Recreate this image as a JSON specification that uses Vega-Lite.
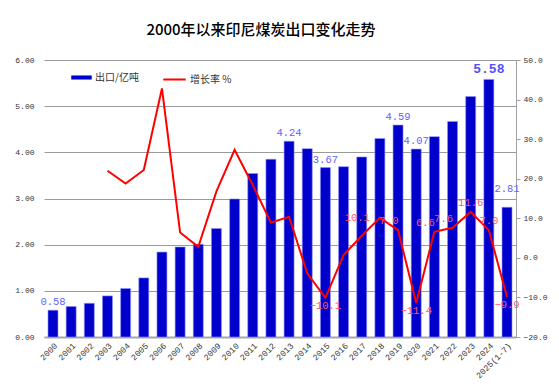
{
  "$schema": "https://vega.github.io/schema/vega-lite/v6.json",
  "width": 472,
  "height": 277,
  "autosize": {"type": "pad"},
  "padding": {"left": 14, "top": 23, "right": 5, "bottom": 0},
  "background": "white",
  "title": {
    "text": "2000年以来印尼煤炭出口变化走势",
    "font": "Noto Sans CJK SC",
    "fontSize": 15,
    "fontWeight": 500,
    "color": "#000000",
    "anchor": "middle",
    "dx": -19,
    "offset": 18
  },
  "config": {
    "view": {"stroke": null},
    "axis": {
      "labelFont": "Liberation Mono",
      "labelColor": "#333333",
      "titleFont": "Noto Sans CJK SC"
    }
  },
  "data": {
    "values": [
      {"year": "2000", "exports": 0.58, "growth": null},
      {"year": "2001", "exports": 0.66, "growth": null},
      {"year": "2002", "exports": 0.73, "growth": null},
      {"year": "2003", "exports": 0.89, "growth": 22.0},
      {"year": "2004", "exports": 1.05, "growth": 18.8},
      {"year": "2005", "exports": 1.28, "growth": 22.2},
      {"year": "2006", "exports": 1.84, "growth": 42.8},
      {"year": "2007", "exports": 1.95, "growth": 6.4},
      {"year": "2008", "exports": 2.01, "growth": 2.8},
      {"year": "2009", "exports": 2.35, "growth": 16.8},
      {"year": "2010", "exports": 2.99, "growth": 27.3},
      {"year": "2011", "exports": 3.54, "growth": 18.4},
      {"year": "2012", "exports": 3.85, "growth": 8.9},
      {"year": "2013", "exports": 4.24, "growth": 10.4},
      {"year": "2014", "exports": 4.08, "growth": -3.9},
      {"year": "2015", "exports": 3.67, "growth": -10.1},
      {"year": "2016", "exports": 3.69, "growth": 0.7},
      {"year": "2017", "exports": 3.90, "growth": 5.6},
      {"year": "2018", "exports": 4.30, "growth": 10.1},
      {"year": "2019", "exports": 4.59, "growth": 7.0},
      {"year": "2020", "exports": 4.07, "growth": -11.4},
      {"year": "2021", "exports": 4.34, "growth": 6.6},
      {"year": "2022", "exports": 4.67, "growth": 7.6},
      {"year": "2023", "exports": 5.21, "growth": 11.6},
      {"year": "2024", "exports": 5.58, "growth": 7.0},
      {"year": "2025(1-7)", "exports": 2.81, "growth": -9.9}
    ]
  },
  "encoding": {
    "x": {
      "field": "year",
      "type": "nominal",
      "sort": null,
      "title": null,
      "scale": {"paddingInner": 0.45, "paddingOuter": 0.22},
      "axis": {
        "labelAngle": -45,
        "labelFontSize": 8.5,
        "labelPadding": 4,
        "ticks": false,
        "domainColor": "#a6a6a6",
        "domainWidth": 2
      }
    }
  },
  "layer": [
    {
      "encoding": {
        "y": {
          "field": "exports",
          "type": "quantitative",
          "title": null,
          "scale": {"domain": [0, 6], "nice": false},
          "axis": {
            "orient": "left",
            "values": [0, 1, 2, 3, 4, 5, 6],
            "format": ".2f",
            "labelFontSize": 8,
            "labelPadding": 10,
            "ticks": false,
            "domain": false,
            "grid": true,
            "gridColor": "#9a9a9a",
            "gridWidth": 1
          }
        }
      },
      "layer": [
        {
          "mark": {"type": "bar", "color": "#0000cc", "stroke": "#8f8fff", "strokeWidth": 0.6},
          "encoding": {
            "fill": {
              "datum": "出口/亿吨",
              "type": "nominal",
              "scale": {"range": ["#0000cc"]},
              "legend": {
                "orient": "none",
                "legendX": 27,
                "legendY": 7,
                "title": null,
                "symbolType": "M-1,-0.2H1V0.2H-1Z",
                "symbolSize": 420,
                "symbolStrokeWidth": 0,
                "labelFont": "Noto Sans CJK SC",
                "labelFontSize": 10,
                "labelColor": "#333333",
                "labelOffset": 3
              }
            }
          }
        },
        {
          "transform": [{"filter": {"field": "year", "oneOf": ["2000", "2013", "2015", "2019", "2020"]}}],
          "mark": {"type": "text", "baseline": "bottom", "dy": -3, "font": "Liberation Mono", "fontSize": 10.5, "color": "#5f5fff"},
          "encoding": {"text": {"field": "exports", "type": "quantitative", "format": ".2f"}}
        },
        {
          "transform": [{"filter": {"field": "year", "equal": "2024"}}],
          "mark": {"type": "text", "baseline": "bottom", "dy": -3, "font": "Liberation Mono", "fontSize": 13, "fontWeight": "bold", "color": "#5050ff"},
          "encoding": {"text": {"field": "exports", "type": "quantitative", "format": ".2f"}}
        },
        {
          "transform": [{"filter": {"field": "year", "equal": "2025(1-7)"}}],
          "mark": {"type": "text", "baseline": "bottom", "dy": -13, "font": "Liberation Mono", "fontSize": 10.5, "color": "#5f5fff"},
          "encoding": {"text": {"field": "exports", "type": "quantitative", "format": ".2f"}}
        }
      ]
    },
    {
      "transform": [{"filter": "isValid(datum.growth)"}],
      "encoding": {
        "y": {
          "field": "growth",
          "type": "quantitative",
          "title": null,
          "scale": {"domain": [-20, 50], "nice": false},
          "axis": {
            "orient": "right",
            "values": [-20, -10, 0, 10, 20, 30, 40, 50],
            "format": ".1f",
            "labelFontSize": 8,
            "labelPadding": 3,
            "ticks": true,
            "tickSize": 4,
            "tickColor": "#a0a0a0",
            "domain": true,
            "domainColor": "#a0a0a0",
            "grid": false
          }
        }
      },
      "layer": [
        {
          "mark": {"type": "line", "strokeWidth": 2},
          "encoding": {
            "stroke": {
              "datum": "增长率 %",
              "type": "nominal",
              "scale": {"range": ["#ff0000"]},
              "legend": {
                "orient": "none",
                "legendX": 118,
                "legendY": 7,
                "title": null,
                "symbolType": "stroke",
                "symbolSize": 500,
                "symbolStrokeWidth": 2,
                "labelFont": "Noto Sans CJK SC",
                "labelFontSize": 10,
                "labelColor": "#333333",
                "labelOffset": 3
              }
            }
          }
        },
        {
          "transform": [{"filter": "datum.year == '2015' || datum.year == '2020' || datum.year == '2025(1-7)'"}],
          "mark": {"type": "text", "baseline": "top", "dy": 3, "font": "Liberation Mono", "fontSize": 10.5, "color": "#ff5a5a"},
          "encoding": {"text": {"field": "growth", "type": "quantitative", "format": ".1f"}}
        },
        {
          "transform": [{"filter": {"field": "year", "oneOf": ["2023", "2024"]}}],
          "mark": {"type": "text", "baseline": "bottom", "dy": -4, "font": "Liberation Mono", "fontSize": 10.5, "color": "#ff5a5a"},
          "encoding": {"text": {"field": "growth", "type": "quantitative", "format": ".1f"}}
        },
        {
          "transform": [{"filter": {"field": "year", "oneOf": ["2019", "2021", "2022"]}}],
          "mark": {"type": "text", "baseline": "bottom", "dy": -4, "dx": -9, "font": "Liberation Mono", "fontSize": 10.5, "color": "#ff5a5a"},
          "encoding": {"text": {"field": "growth", "type": "quantitative", "format": ".1f"}}
        },
        {
          "transform": [{"filter": {"field": "year", "equal": "2018"}}],
          "mark": {"type": "text", "align": "right", "baseline": "middle", "dx": -10, "font": "Liberation Mono", "fontSize": 10.5, "color": "#ff5a5a"},
          "encoding": {"text": {"field": "growth", "type": "quantitative", "format": ".1f"}}
        }
      ]
    }
  ],
  "resolve": {"scale": {"y": "independent", "fill": "independent", "stroke": "independent"}}
}
